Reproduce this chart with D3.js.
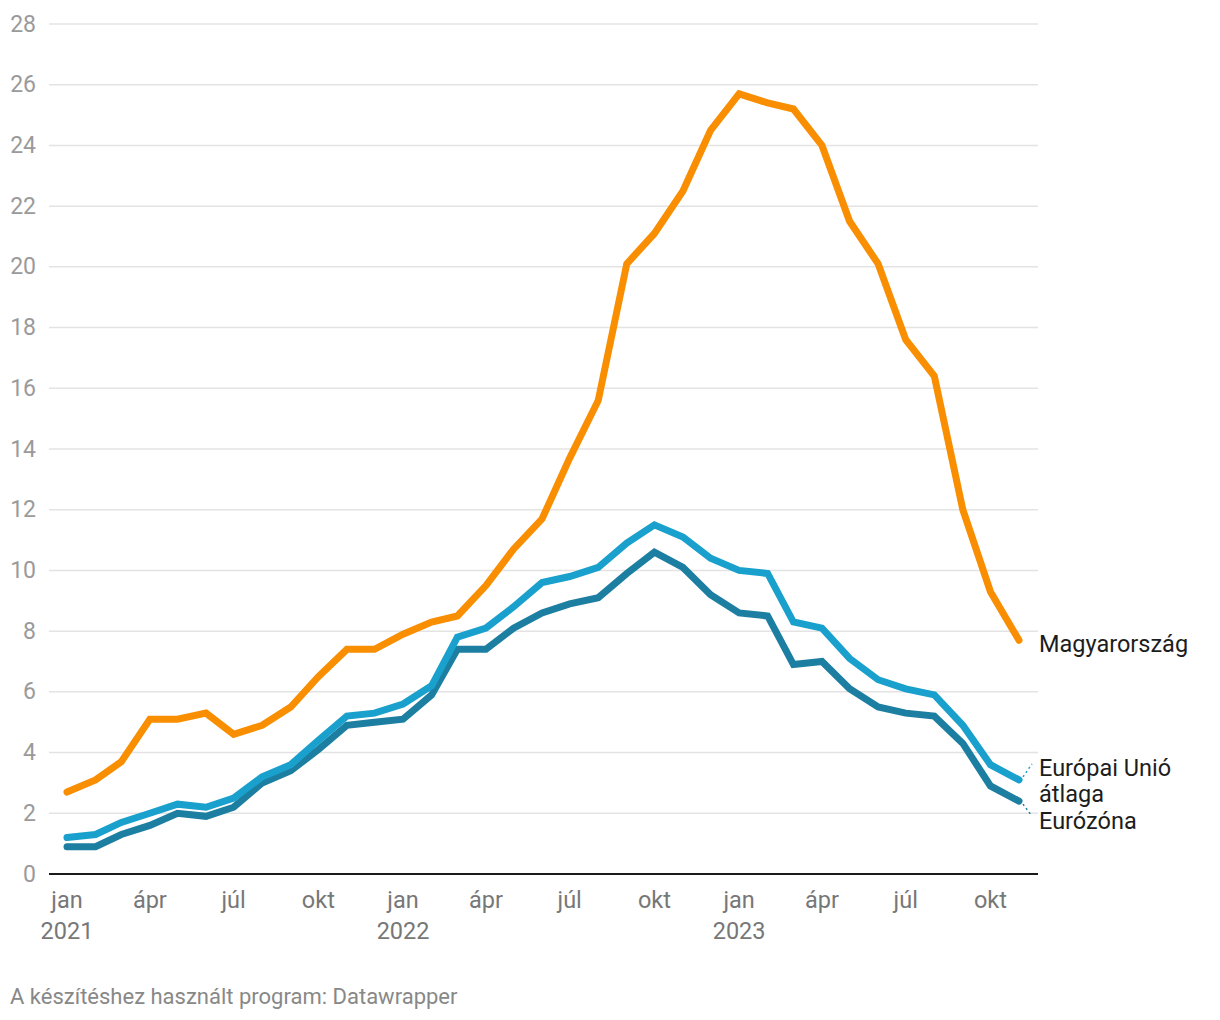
<!DOCTYPE html>
<html><head><meta charset="utf-8">
<script src="https://cdn.jsdelivr.net/npm/d3@7"></script>
<style>
body{margin:0;background:#fff;font-family:Roboto,"Noto Sans",sans-serif;}
</style></head><body>
<svg id="c" width="1220" height="1020"></svg>
<script>
const months = d3.range(35).map(i => new Date(2021, i, 1));
const hungary = [2.7,3.1,3.7,5.1,5.1,5.3,4.6,4.9,5.5,6.5,7.4,7.4,
  7.9,8.3,8.5,9.5,10.7,11.7,13.7,15.6,20.1,21.1,22.5,24.5,
  25.7,25.4,25.2,24.0,21.5,20.1,17.6,16.4,12.0,9.3,7.7];
const euAvg = [1.2,1.3,1.7,2.0,2.3,2.2,2.5,3.2,3.6,4.4,5.2,5.3,
  5.6,6.2,7.8,8.1,8.8,9.6,9.8,10.1,10.9,11.5,11.1,10.4,
  10.0,9.9,8.3,8.1,7.1,6.4,6.1,5.9,4.9,3.6,3.1];
const eurozone = [0.9,0.9,1.3,1.6,2.0,1.9,2.2,3.0,3.4,4.1,4.9,5.0,
  5.1,5.9,7.4,7.4,8.1,8.6,8.9,9.1,9.9,10.6,10.1,9.2,
  8.6,8.5,6.9,7.0,6.1,5.5,5.3,5.2,4.3,2.9,2.4];
const yTicks = [0,2,4,6,8,10,12,14,16,18,20,22,24,26,28];
const monthNames = ["jan","feb","márc","ápr","máj","jún","júl","aug","szept","okt","nov","dec"];
const seriesNames = ["Magyarország","Európai Unió átlaga","Eurózóna"];
const colors = ["#f88e00","#19a0cc","#1c7fa1"];

const svg = d3.select("#c");
const x = d3.scaleTime().domain([months[0], months[34]]).range([67, 1019]);
const y = d3.scaleLinear().domain([0, 28]).range([874, 24]);
const gridL = 49, gridR = 1038;

// grid
svg.append("g").selectAll("line").data(yTicks.filter(d => d > 0)).join("line")
  .attr("x1", gridL).attr("x2", gridR)
  .attr("y1", d => y(d)).attr("y2", d => y(d))
  .attr("stroke", "#e3e3e3").attr("stroke-width", 1.5);
svg.append("g").selectAll("text").data(yTicks).join("text")
  .attr("x", 36).attr("y", d => y(d) + 7.5)
  .attr("text-anchor", "end").attr("font-size", 23).attr("fill", "#9a9a9a")
  .text(d => d);
// baseline
svg.append("line").attr("x1", gridL).attr("x2", gridR)
  .attr("y1", y(0)).attr("y2", y(0)).attr("stroke", "#1a1a1a").attr("stroke-width", 2);

// x axis labels
const xTicks = months.filter(d => d.getMonth() % 3 === 0);
const xg = svg.append("g");
xg.selectAll("text.m").data(xTicks).join("text").attr("class", "m")
  .attr("x", d => x(d)).attr("y", 908).attr("text-anchor", "middle")
  .attr("font-size", 23.5).attr("fill", "#777")
  .text(d => monthNames[d.getMonth()]);
xg.selectAll("text.yr").data(xTicks.filter(d => d.getMonth() === 0)).join("text").attr("class", "yr")
  .attr("x", d => x(d)).attr("y", 939).attr("text-anchor", "middle")
  .attr("font-size", 23.5).attr("fill", "#777")
  .text(d => d.getFullYear());

// lines
const line = d3.line().x((d, i) => x(months[i])).y(d => y(d));
const data = [eurozone, euAvg, hungary];
const cols = [colors[2], colors[1], colors[0]];
data.forEach((s, k) => {
  svg.append("path").attr("d", line(s)).attr("fill", "none")
    .attr("stroke", cols[k]).attr("stroke-width", 7)
    .attr("stroke-linejoin", "miter").attr("stroke-linecap", "round");
});

// labels
const lastX = x(months[34]);
const lab = (t, yy) => svg.append("text").attr("x", 1039).attr("y", yy)
  .attr("font-size", 23.5).attr("fill", "#1d1d1d").text(t);
lab(seriesNames[0], 652);
lab("Európai Unió", 776);
lab("átlaga", 802);
lab(seriesNames[2], 829);
// connectors
svg.append("line").attr("x1", lastX + 4).attr("y1", y(euAvg[34]) - 3)
  .attr("x2", 1032).attr("y2", 764).attr("stroke", colors[1]).attr("stroke-width", 1.5)
  .attr("stroke-dasharray", "2,3");
svg.append("line").attr("x1", lastX + 4).attr("y1", y(eurozone[34]) + 3)
  .attr("x2", 1032).attr("y2", 816).attr("stroke", colors[2]).attr("stroke-width", 1.5)
  .attr("stroke-dasharray", "2,3");

// footer
svg.append("text").attr("x", 10).attr("y", 1004).attr("font-size", 22).attr("fill", "#888")
  .text("A készítéshez használt program: Datawrapper");
</script></body></html>
